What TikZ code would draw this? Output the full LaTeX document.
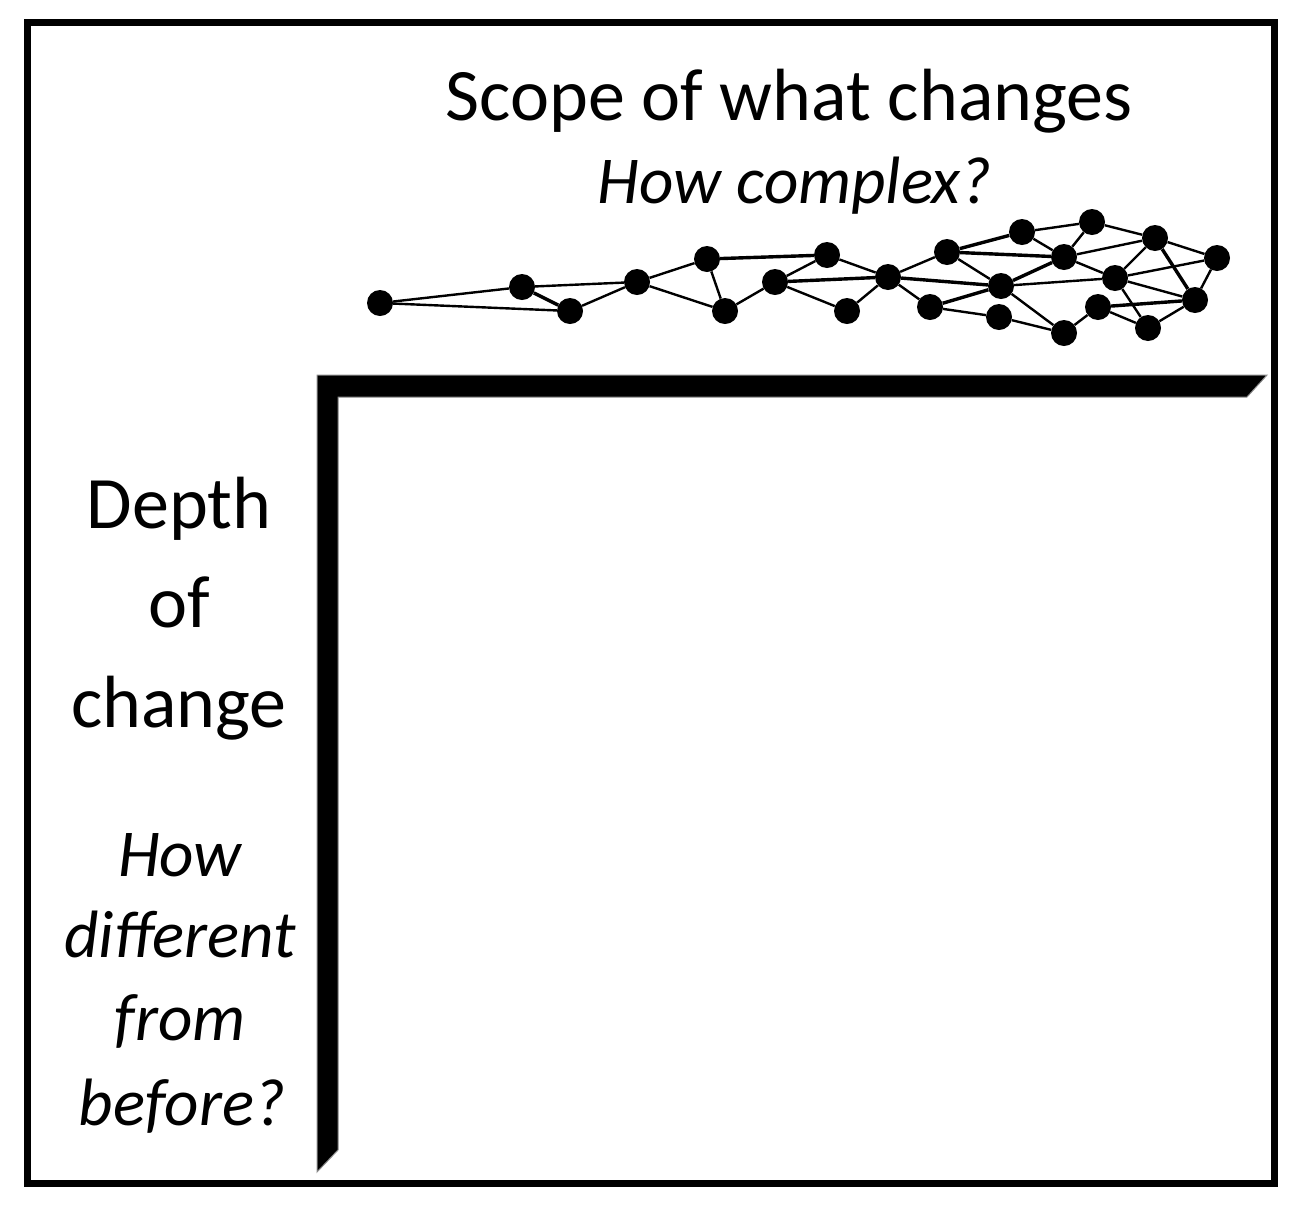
\documentclass[tikz,border=0pt]{standalone}
\usepackage{fontspec}
\setmainfont{Carlito}
\begin{document}
\begin{tikzpicture}[x=1pt,y=-1pt,
  dot/.style={circle,fill=black,inner sep=0pt,minimum size=26pt},
  link/.style={line width=2.4pt},
  heavy/.style={line width=3.4pt},
  lbl/.style={anchor=base,inner sep=0pt,font=\fontsize{74}{80}\selectfont},
  ilbl/.style={anchor=base,inner sep=0pt,font=\fontsize{67}{72}\selectfont\itshape}]
\useasboundingbox (0,0) rectangle (1298,1208);
\draw[line width=7pt] (27.5,22.5) rectangle (1274.5,1183.5);
% axes
\fill[black,draw=black!45,line width=1pt] (317,375) -- (1267,375) -- (1247,397) -- (338,397) -- (338,1150) -- (317,1172) -- cycle;
% texts
\node[lbl] (scope) at (789,120) {Scope of what changes};
\node[ilbl] (complex) at (795,203) {How complex?};
\node[lbl] (d1) at (179,528) {Depth};
\node[lbl] (d2) at (179,627) {of};
\node[lbl] (d3) at (179,727) {change};
\node[ilbl] (q1) at (180,876) {How};
\node[ilbl] (q2) at (180,957) {different};
\node[ilbl] (q3) at (180,1040) {from};
\node[ilbl] (q4) at (182,1125) {before?};
% network nodes
\node[dot] (A) at (380,303) {};
\node[dot] (B) at (522,287) {};
\node[dot] (C) at (570,311) {};
\node[dot] (D) at (637,282) {};
\node[dot] (E) at (707,259) {};
\node[dot] (F) at (725,311) {};
\node[dot] (G) at (775,282) {};
\node[dot] (H) at (827,255) {};
\node[dot] (I) at (847,311) {};
\node[dot] (J) at (888,277) {};
\node[dot] (K) at (947,252) {};
\node[dot] (L) at (1022,232) {};
\node[dot] (M) at (1092,222) {};
\node[dot] (N) at (1155,238) {};
\node[dot] (O) at (1217,258) {};
\node[dot] (P) at (1064,257) {};
\node[dot] (Q) at (1001,286) {};
\node[dot] (R) at (1115,278) {};
\node[dot] (S) at (930,307) {};
\node[dot] (T) at (999,317) {};
\node[dot] (U) at (1064,333) {};
\node[dot] (V) at (1098,307) {};
\node[dot] (W) at (1148,328) {};
\node[dot] (X) at (1195,300) {};
% edges
\foreach \a/\b in {A/B,A/C,B/D,C/D,D/E,D/F,E/F,F/G,G/H,G/I,H/J,I/J,J/K,J/S,K/Q,L/M,L/P,M/N,M/P,N/P,N/O,N/R,O/R,O/X,P/R,Q/R,Q/U,S/T,T/U,U/V,V/W,R/W,R/X,W/X}
  \draw[link] (\a) -- (\b);
\foreach \a/\b in {B/C,E/H,G/J,J/Q,K/L,K/P,P/Q,Q/S,N/X,V/X}
  \draw[heavy] (\a) -- (\b);
\end{tikzpicture}
\end{document}
